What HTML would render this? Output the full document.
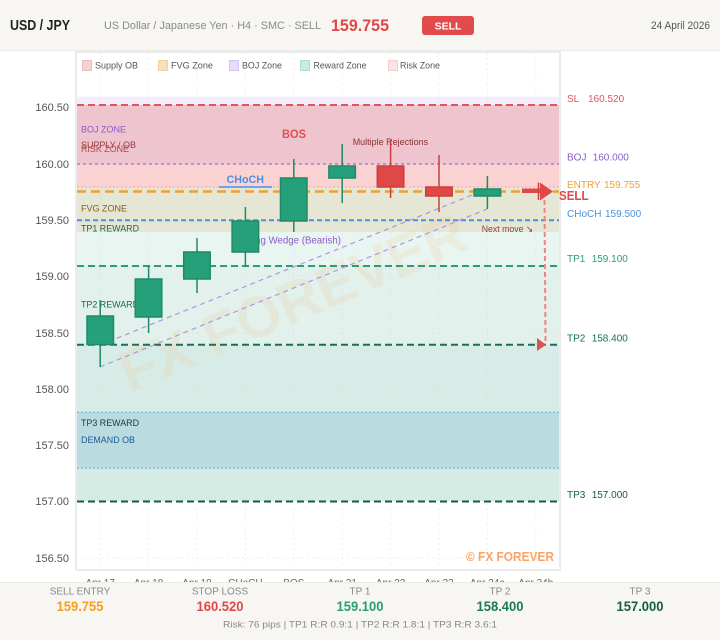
<!DOCTYPE html>
<html><head><meta charset="utf-8"><style>
html,body{margin:0;padding:0;background:#fff;}
svg{display:block;font-family:"Liberation Sans",sans-serif;}
text{font-family:"Liberation Sans",sans-serif;}
</style></head><body>
<svg width="720" height="640" viewBox="0 0 720 640" xmlns="http://www.w3.org/2000/svg" font-family="Liberation Sans, sans-serif">
<rect width="720" height="640" fill="#ffffff"/>
<!-- header -->
<rect x="0" y="0" width="720" height="50" fill="#f7f6f3"/>
<line x1="0" y1="50.5" x2="720" y2="50.5" stroke="#ecebe6" stroke-width="1"/>
<text x="10" y="30" font-size="14.5" font-weight="bold" fill="#222" textLength="60" lengthAdjust="spacingAndGlyphs">USD / JPY</text>
<text x="104" y="29" font-size="11" fill="#8a8a8a" textLength="217" lengthAdjust="spacingAndGlyphs">US Dollar / Japanese Yen · H4 · SMC · SELL</text>
<text x="331" y="31" font-size="17" font-weight="bold" fill="#e04848" textLength="58" lengthAdjust="spacingAndGlyphs">159.755</text>
<rect x="422" y="16" width="52" height="19" rx="3" fill="#e24b4b"/>
<text x="448" y="29.5" font-size="10.5" font-weight="bold" fill="#fff" text-anchor="middle">SELL</text>
<text x="710" y="29" font-size="11" fill="#555" text-anchor="end" textLength="59" lengthAdjust="spacingAndGlyphs">24 April 2026</text>

<!-- plot frame -->
<rect x="76" y="52" width="484" height="518" fill="#fff" stroke="#ebebeb" stroke-width="2"/>

<!-- zones -->
<rect x="77" y="96.7" width="482" height="8.3" fill="#f3eefa"/>
<rect x="77" y="105" width="482" height="59" fill="#eec4cf"/>
<rect x="77" y="164" width="482" height="23" fill="#fad2d2"/>
<rect x="77" y="187" width="482" height="45" fill="#e5e6d3"/>
<rect x="77" y="232" width="482" height="33" fill="#e9f5f1"/>
<rect x="77" y="265" width="482" height="80" fill="#e2f1ec"/>
<rect x="77" y="345" width="482" height="67" fill="#d7ece6"/>
<rect x="77" y="412" width="482" height="56" fill="#badbe0"/>
<rect x="77" y="468" width="482" height="33" fill="#d5ece5"/>

<!-- grid -->
<g stroke="#d4d4d4" stroke-width="1" stroke-dasharray="2 3" opacity="0.35">
<line x1="100.2" y1="53" x2="100.2" y2="569"/>
<line x1="148.6" y1="53" x2="148.6" y2="569"/>
<line x1="197" y1="53" x2="197" y2="569"/>
<line x1="245.4" y1="53" x2="245.4" y2="569"/>
<line x1="293.8" y1="53" x2="293.8" y2="569"/>
<line x1="342.2" y1="53" x2="342.2" y2="569"/>
<line x1="390.6" y1="53" x2="390.6" y2="569"/>
<line x1="439" y1="53" x2="439" y2="569"/>
<line x1="487.4" y1="53" x2="487.4" y2="569"/>
<line x1="535.8" y1="53" x2="535.8" y2="569"/>
<line x1="77" y1="107" x2="559" y2="107"/>
<line x1="77" y1="164" x2="559" y2="164"/>
<line x1="77" y1="220" x2="559" y2="220"/>
<line x1="77" y1="276" x2="559" y2="276"/>
<line x1="77" y1="333" x2="559" y2="333"/>
<line x1="77" y1="389" x2="559" y2="389"/>
<line x1="77" y1="445" x2="559" y2="445"/>
<line x1="77" y1="501" x2="559" y2="501"/>
<line x1="77" y1="558" x2="559" y2="558"/>
</g>

<!-- legend -->
<g font-size="9.5" fill="#555">
<rect x="82.5" y="60.5" width="9" height="10" fill="#f7d0d0" stroke="#ebb4b4" stroke-width="0.8"/>
<text x="95" y="68.5" textLength="43" lengthAdjust="spacingAndGlyphs">Supply OB</text>
<rect x="158.5" y="60.5" width="9" height="10" fill="#f8e0bb" stroke="#efc890" stroke-width="0.8"/>
<text x="171" y="68.5" textLength="42" lengthAdjust="spacingAndGlyphs">FVG Zone</text>
<rect x="229.5" y="60.5" width="9" height="10" fill="#e6dcf7" stroke="#cdb8ee" stroke-width="0.8"/>
<text x="242" y="68.5" textLength="40" lengthAdjust="spacingAndGlyphs">BOJ Zone</text>
<rect x="300.5" y="60.5" width="9" height="10" fill="#c8ece0" stroke="#a0d8c4" stroke-width="0.8"/>
<text x="313.5" y="68.5" textLength="53" lengthAdjust="spacingAndGlyphs">Reward Zone</text>
<rect x="388.5" y="60.5" width="9" height="10" fill="#fbe3e6" stroke="#f0c4c8" stroke-width="0.8"/>
<text x="400" y="68.5" textLength="40" lengthAdjust="spacingAndGlyphs">Risk Zone</text>
</g>

<!-- zone labels -->
<g font-size="9">
<text x="81" y="132.5" fill="#8b5cc8" textLength="45" lengthAdjust="spacingAndGlyphs">BOJ ZONE</text>
<text x="81" y="148" fill="#9a3a3a" textLength="55" lengthAdjust="spacingAndGlyphs">SUPPLY / OB</text>
<text x="81" y="152" fill="#b04a4a" textLength="48" lengthAdjust="spacingAndGlyphs">RISK ZONE</text>
<text x="81" y="211.5" fill="#8a5a20" textLength="46" lengthAdjust="spacingAndGlyphs">FVG ZONE</text>
<text x="81" y="231.5" fill="#1e6650" textLength="58" lengthAdjust="spacingAndGlyphs">TP1 REWARD</text>
<text x="81" y="307.5" fill="#1e6650" textLength="58" lengthAdjust="spacingAndGlyphs">TP2 REWARD</text>
<text x="81" y="426" fill="#1a3a40" textLength="58" lengthAdjust="spacingAndGlyphs">TP3 REWARD</text>
<text x="81" y="443" fill="#1a5a9a" textLength="54" lengthAdjust="spacingAndGlyphs">DEMAND OB</text>
</g>

<!-- watermark -->
<text x="130" y="393" font-size="58" font-weight="bold" fill="#f0c080" opacity="0.16" transform="rotate(-23 130 393)">FX FOREVER</text>

<!-- horizontal levels -->
<line x1="77" y1="105" x2="559" y2="105" stroke="#e05555" stroke-width="2" stroke-dasharray="7 4"/>
<line x1="77" y1="164" x2="559" y2="164" stroke="#a77de0" stroke-width="1.5" stroke-dasharray="3 3"/>
<line x1="77" y1="187" x2="559" y2="187" stroke="#f0a8a8" stroke-width="1" stroke-dasharray="2 2"/>
<line x1="77" y1="191.5" x2="559" y2="191.5" stroke="#f0a030" stroke-width="2.5" stroke-dasharray="9 5"/>
<line x1="77" y1="220.3" x2="559" y2="220.3" stroke="#4a90e2" stroke-width="2" stroke-dasharray="5 3"/>
<line x1="77" y1="266" x2="559" y2="266" stroke="#2a9d78" stroke-width="2" stroke-dasharray="7 4"/>
<line x1="77" y1="344.7" x2="559" y2="344.7" stroke="#1a6e55" stroke-width="2" stroke-dasharray="7 4"/>
<line x1="77" y1="412.3" x2="559" y2="412.3" stroke="#6aa8e8" stroke-width="1" stroke-dasharray="2 2"/>
<line x1="77" y1="468.3" x2="559" y2="468.3" stroke="#6aa8e8" stroke-width="1" stroke-dasharray="2 2"/>
<line x1="77" y1="501.5" x2="559" y2="501.5" stroke="#145c48" stroke-width="2" stroke-dasharray="7 4"/>

<!-- CHoCH / BOS labels -->
<text x="226.5" y="183" font-size="11" font-weight="bold" fill="#4a90e2" textLength="37.5" lengthAdjust="spacingAndGlyphs">CHoCH</text>
<line x1="219" y1="187" x2="272" y2="187" stroke="#4a90e2" stroke-width="1.5"/>
<text x="282" y="138" font-size="11.5" font-weight="bold" fill="#e05050" textLength="24" lengthAdjust="spacingAndGlyphs">BOS</text>
<text x="352.7" y="145" font-size="9.5" fill="#8b3030" textLength="75.5" lengthAdjust="spacingAndGlyphs">Multiple Rejections</text>
<text x="481.7" y="232" font-size="9.5" fill="#9a4040" textLength="51.5" lengthAdjust="spacingAndGlyphs">Next move ↘</text>

<!-- wedge -->
<line x1="100" y1="345" x2="487" y2="189" stroke="#b095e0" stroke-width="1.2" stroke-dasharray="5 4"/>
<line x1="100" y1="367" x2="487" y2="209" stroke="#b095e0" stroke-width="1.2" stroke-dasharray="5 4"/>
<text x="239" y="243.5" font-size="10" fill="#8b5cc8" textLength="102" lengthAdjust="spacingAndGlyphs">Rising Wedge (Bearish)</text>

<!-- candles -->
<g stroke-width="1.5">
<g stroke="#1f8a66" fill="#26a07a">
<line x1="100.2" y1="300" x2="100.2" y2="367"/><rect x="87" y="316" width="26.5" height="28.5"/>
<line x1="148.6" y1="266" x2="148.6" y2="333"/><rect x="135.3" y="279" width="26.5" height="38"/>
<line x1="197" y1="238" x2="197" y2="293"/><rect x="183.7" y="252" width="26.5" height="27"/>
<line x1="245.4" y1="207" x2="245.4" y2="266"/><rect x="232.1" y="221" width="26.5" height="31"/>
<line x1="293.8" y1="159" x2="293.8" y2="232"/><rect x="280.5" y="178" width="26.5" height="43"/>
<line x1="342.2" y1="144" x2="342.2" y2="203"/><rect x="328.9" y="166" width="26.5" height="12"/>
<line x1="487.4" y1="176" x2="487.4" y2="209"/><rect x="474.1" y="189" width="26.5" height="7"/>
</g>
<g stroke="#c94040" fill="#e04848">
<line x1="390.6" y1="140" x2="390.6" y2="198"/><rect x="377.3" y="166" width="26.5" height="21"/>
<line x1="439" y1="155" x2="439" y2="212"/><rect x="425.7" y="187" width="26.5" height="9"/>
</g>
</g>

<!-- sell arrow -->
<rect x="522" y="188.5" width="18" height="4.5" fill="#e04848"/>
<line x1="538.5" y1="182.5" x2="538.5" y2="200" stroke="#d04040" stroke-width="1.5"/>
<polygon points="540,182.5 553,191.5 540,200.5" fill="#e04848"/>
<line x1="544.5" y1="200" x2="545.5" y2="342" stroke="#ea8888" stroke-width="2" stroke-dasharray="5 3"/>
<polygon points="537,338 546,344.7 537,351" fill="#e05050"/>

<text x="559" y="200" font-size="13" font-weight="bold" fill="#e04848" textLength="29.5" lengthAdjust="spacingAndGlyphs">SELL</text>

<!-- watermark corner -->
<text x="554" y="561" font-size="13" font-weight="bold" fill="#f7a468" text-anchor="end" textLength="88" lengthAdjust="spacingAndGlyphs">© FX FOREVER</text>

<!-- right labels -->
<g font-size="10">
<text x="567" y="102" fill="#e05555">SL<tspan x="588">160.520</tspan></text>
<text x="567" y="160.3" fill="#8b5cc8">BOJ<tspan x="592.7">160.000</tspan></text>
<text x="567" y="188" fill="#f0a030">ENTRY<tspan x="604">159.755</tspan></text>
<text x="567" y="217" fill="#4a90e2">CHoCH<tspan x="605">159.500</tspan></text>
<text x="567" y="262" fill="#2a9d78">TP1<tspan x="591.7">159.100</tspan></text>
<text x="567" y="341.3" fill="#1a6e55">TP2<tspan x="591.7">158.400</tspan></text>
<text x="567" y="498" fill="#145c48">TP3<tspan x="591.7">157.000</tspan></text>
</g>

<!-- y axis labels -->
<g font-size="11" fill="#555" text-anchor="end">
<text x="69" y="111">160.50</text>
<text x="69" y="168">160.00</text>
<text x="69" y="224">159.50</text>
<text x="69" y="280">159.00</text>
<text x="69" y="337">158.50</text>
<text x="69" y="393">158.00</text>
<text x="69" y="449">157.50</text>
<text x="69" y="505">157.00</text>
<text x="69" y="562">156.50</text>
</g>

<!-- x axis labels -->
<g font-size="10" fill="#666" text-anchor="middle">
<text x="100.2" y="586">Apr 17</text>
<text x="148.6" y="586">Apr 18</text>
<text x="197" y="586">Apr 19</text>
<text x="245.4" y="586">CHoCH</text>
<text x="293.8" y="586">BOS</text>
<text x="342.2" y="586">Apr 21</text>
<text x="390.6" y="586">Apr 22</text>
<text x="439" y="586">Apr 23</text>
<text x="487.4" y="586">Apr 24a</text>
<text x="535.8" y="586">Apr 24b</text>
</g>

<!-- footer -->
<rect x="0" y="582" width="720" height="58" fill="#f7f6f3"/>
<line x1="0" y1="582.5" x2="720" y2="582.5" stroke="#ecebe6" stroke-width="1"/>
<g font-size="10" fill="#888" text-anchor="middle">
<text x="80" y="594.5">SELL ENTRY</text>
<text x="220" y="594.5">STOP LOSS</text>
<text x="360" y="594.5">TP 1</text>
<text x="500" y="594.5">TP 2</text>
<text x="640" y="594.5">TP 3</text>
</g>
<g font-size="14" font-weight="bold" text-anchor="middle">
<text x="80" y="611" fill="#f5a020" textLength="47" lengthAdjust="spacingAndGlyphs">159.755</text>
<text x="220" y="611" fill="#e04848" textLength="47" lengthAdjust="spacingAndGlyphs">160.520</text>
<text x="360" y="611" fill="#2a9d78" textLength="47" lengthAdjust="spacingAndGlyphs">159.100</text>
<text x="500" y="611" fill="#1a7a5a" textLength="47" lengthAdjust="spacingAndGlyphs">158.400</text>
<text x="640" y="611" fill="#145c48" textLength="47" lengthAdjust="spacingAndGlyphs">157.000</text>
</g>
<text x="360" y="627.5" font-size="9.5" fill="#888" text-anchor="middle" textLength="274" lengthAdjust="spacingAndGlyphs">Risk: 76 pips  |  TP1 R:R 0.9:1  |  TP2 R:R 1.8:1  |  TP3 R:R 3.6:1</text>
</svg>
</body></html>
